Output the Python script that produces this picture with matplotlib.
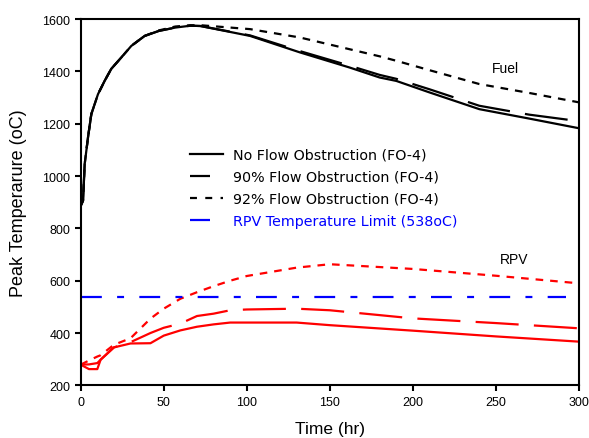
import matplotlib
matplotlib.use("Agg")
import matplotlib.pyplot as plt

plt.rcParams['font.family'] = ['Liberation Sans', 'DejaVu Sans']
plt.rcParams['lines.scale_dashes'] = False

# fuel peak temperature (oC)
t_fuel = [0, 1.4, 2.4, 4.4, 6.4, 10.4, 14.4, 18.4, 24.5, 30.5, 38.5, 47, 57, 66,
          72, 102, 132, 162, 180, 190, 210, 240, 270, 300]
fuel_no = [886, 906, 1046, 1148, 1237, 1313, 1364, 1410, 1454, 1498, 1536, 1555,
           1568, 1575, 1574, 1536, 1473, 1415, 1377, 1364, 1320, 1256, 1220, 1183]
fuel_90 = [886, 906, 1046, 1148, 1237, 1313, 1364, 1410, 1454, 1498, 1536, 1555,
           1568, 1575, 1574, 1538, 1478, 1422, 1387, 1372, 1332, 1269, 1235, 1210]
fuel_92 = [886, 906, 1046, 1148, 1237, 1313, 1364, 1410, 1454, 1498, 1536, 1557,
           1572, 1577, 1577, 1562, 1530, 1485, 1458, 1441, 1405, 1352, 1318, 1282]

# RPV peak temperature (oC)
t_rpv = [0, 5, 10, 12, 20, 30, 42, 50, 60, 70, 80, 90, 100, 130, 150, 200, 250, 300]
rpv_no = [279, 262, 262, 298, 345, 360, 361, 390, 410, 424, 433, 440, 440, 440,
          430, 409, 387, 367]
rpv_90 = [279, 280, 285, 298, 345, 365, 400, 420, 436, 465, 474, 487, 490, 493,
          487, 456, 438, 418]
rpv_92 = [279, 295, 310, 315, 355, 380, 455, 493, 531, 556, 579, 600, 618, 650,
          663, 645, 619, 590]

rpv_limit = 538
limit_t = [0, 292]

labels = ['No Flow Obstruction (FO-4)', '90% Flow Obstruction (FO-4)',
          '92% Flow Obstruction (FO-4)', 'RPV Temperature Limit (538oC)']

long_dash = [31, 11]
short_dash = [5.5, 5]
dash_dot = [15, 11, 5, 11]

fig = plt.figure(figsize=(5.89, 4.39), dpi=100)
ax = fig.add_axes([0.137, 0.12, 0.846, 0.834])

lw = 1.6
ax.plot(t_fuel, fuel_no, color='black', lw=lw, label=labels[0])
ax.plot(t_fuel, fuel_90, color='black', lw=lw, dashes=long_dash, label=labels[1])
ax.plot(t_fuel, fuel_92, color='black', lw=lw, dashes=short_dash, label=labels[2])

ax.plot(t_rpv, rpv_no, color='red', lw=lw)
ax.plot(t_rpv, rpv_90, color='red', lw=lw, dashes=long_dash)
ax.plot(t_rpv, rpv_92, color='red', lw=lw, dashes=short_dash)

ax.plot(limit_t, [rpv_limit, rpv_limit], color='blue', lw=lw, dashes=dash_dot,
        label=labels[3])

ax.set_xlim(0, 300)
ax.set_ylim(200, 1600)
ax.set_xticks(range(0, 301, 50))
ax.set_yticks(range(200, 1601, 200))
ax.tick_params(direction='out', length=4, width=1.5, labelsize=9)
for s in ax.spines.values():
    s.set_linewidth(1.5)

ax.set_xlabel('Time (hr)', fontsize=12.5)
ax.set_ylabel('Peak Temperarure (oC)', fontsize=13)
ax.xaxis.set_label_coords(0.5, -0.098)
ax.yaxis.set_label_coords(-0.108, 0.5)

ax.text(247.6, 1415, 'Fuel', fontsize=10, ha='left', va='center')
ax.text(252.6, 683, 'RPV', fontsize=10, ha='left', va='center')

leg = ax.legend(loc='upper left', bbox_to_anchor=(0.3226, 0.6606),
                bbox_transform=fig.transFigure, frameon=False,
                prop={'family': 'DejaVu Sans', 'size': 10.3},
                handlelength=2.3, handletextpad=0.68, labelspacing=0.55,
                borderpad=0, borderaxespad=0)
hl = leg.get_lines()
hl[1].set_dashes([14.4, 30])
hl[2].set_dashes([5, 6])
hl[3].set_dashes([14.4, 30])
leg.get_texts()[3].set_color('blue')

fig.savefig('out.png', dpi=100)
